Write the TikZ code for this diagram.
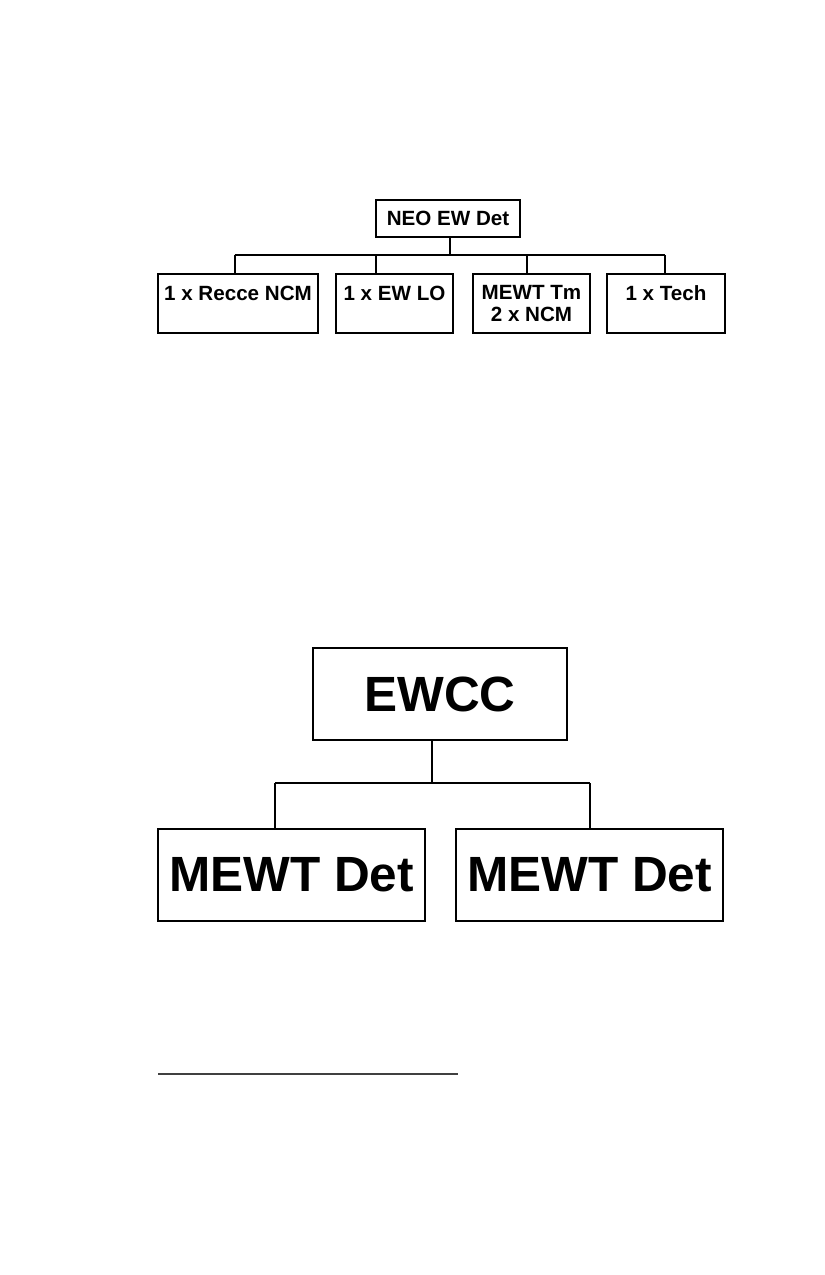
\documentclass[tikz,border=0pt]{standalone}
\usepackage{fontspec}
\setmainfont{Liberation Sans}
\usetikzlibrary{arrows.meta}
\tikzstyle{box} = [draw, line width=2pt, inner sep=0pt, font=\bfseries\fontsize{20.6}{21.7}\selectfont]
\tikzstyle{topbox} = [box, minimum height=59pt, text height=26pt, text depth=33pt]
\tikzstyle{bigbox} = [draw, line width=2pt, inner sep=0pt, minimum height=92pt, font=\bfseries\fontsize{49.5}{50}\selectfont]
\tikzstyle{line} = [draw, line width=2pt]

\begin{document}
\begin{tikzpicture}[x=1pt, y=-1pt]
    \useasboundingbox (0,0) rectangle (825,1275);

    \node[box, minimum width=144pt, minimum height=37pt] (neo) at (448, 218) {NEO EW Det};
    \node[topbox, minimum width=160pt] (recce) at (238, 303.5) {1 x Recce NCM};
    \node[topbox, minimum width=117pt] (ewlo) at (394.5, 303.5) {1 x EW LO};
    \node[box, minimum width=117pt, minimum height=59pt, align=center] (tm) at (531.5, 303.5) {MEWT Tm\\2 x NCM};
    \node[topbox, minimum width=118pt] (tech) at (666, 303.5) {1 x Tech};

    \coordinate (neobus) at (450, 255);
    \coordinate (b1) at (234.7, 255);
    \coordinate (b2) at (375.9, 255);
    \coordinate (b3) at (526.5, 255);
    \coordinate (b4) at (665, 255);

    \path [line] (neobus |- neo.south) -- (neobus);
    \path [line] (b1) -- (b4);
    \path [line] (b1) -- (b1 |- recce.north);
    \path [line] (b2) -- (b2 |- ewlo.north);
    \path [line] (b3) -- (b3 |- tm.north);
    \path [line] (b4) -- (b4 |- tech.north);

    \node[bigbox, minimum width=254pt] (ewcc) at (440, 694) {EWCC};
    \node[bigbox, minimum width=267pt] (detl) at (291.5, 875) {MEWT Det};
    \node[bigbox, minimum width=267pt] (detr) at (589.5, 875) {MEWT Det};

    \coordinate (ewccbus) at (432.4, 783);
    \coordinate (bl) at (275.4, 783);
    \coordinate (br) at (589.5, 783);

    \path [line] (ewccbus |- ewcc.south) -- (ewccbus);
    \path [line] (bl) -- (br);
    \path [line] (bl) -- (bl |- detl.north);
    \path [line] (br) -- (br |- detr.north);

    \coordinate (rulel) at (158, 1074);
    \coordinate (ruler) at (458, 1074);
    \draw[line width=1.2pt, black!75] (rulel) -- (ruler);

  \end{tikzpicture}
\end{document}
